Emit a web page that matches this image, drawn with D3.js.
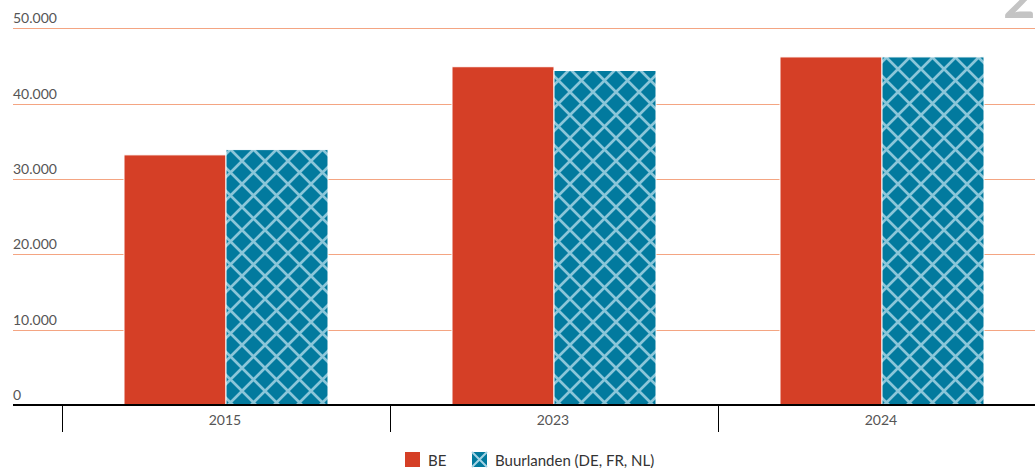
<!DOCTYPE html>
<html>
<head>
<meta charset="utf-8">
<script src="https://cdn.jsdelivr.net/npm/d3@7.9.0/dist/d3.min.js"></script>
<style>
  body { margin: 0; background: #fff; }
  svg { display: block; font-family: Lato, "Open Sans", sans-serif; }
</style>
</head>
<body>
<svg id="chart" width="1035" height="468"></svg>
<script>
// data
const years   = ['2015', '2023', '2024'];
const series  = ['BE', 'Buurlanden (DE, FR, NL)'];
const beVals  = [33200, 44900, 46200];
const buurVals = [33900, 44400, 46200];
const yTicks  = [0, 10000, 20000, 30000, 40000, 50000];

const red  = '#d53f26';
const teal = '#027a9e';
const hatch = '#a3d3e4';

const svg = d3.select('#chart');
const W = 1035;

// hatch pattern
const defs = svg.append('defs');
defs.append('filter').attr('id', 'soft')
  .append('feGaussianBlur').attr('stdDeviation', 0.6);
const pat = defs.append('pattern')
    .attr('id', 'hatch')
    .attr('patternUnits', 'userSpaceOnUse')
    .attr('width', 23).attr('height', 23)
    .attr('x', 226).attr('y', 0);
pat.append('rect').attr('width', 23).attr('height', 23).attr('fill', teal);
pat.append('path')
    .attr('d', 'M0,0L23,23M23,0L0,23M-2,21L2,25M21,-2L25,2M-2,2L2,-2M21,25L25,21')
    .attr('stroke', hatch).attr('stroke-width', 2.6).attr('stroke-opacity', 0.85)
    .attr('fill', 'none').attr('filter', 'url(#soft)');

const y = d3.scaleLinear().domain([0, 50000]).range([405, 28.3]);
const x0 = d3.scaleBand().domain(years).range([62, 1046]);
const x1 = d3.scaleBand().domain(series).range([62, 266]);

const fmt = d3.formatLocale({ decimal: ',', thousands: '.', grouping: [3], currency: ['€', ''] }).format(',');

// gridlines + labels
const grid = svg.append('g');
grid.selectAll('line').data(yTicks.filter(d => d > 0)).join('line')
    .attr('x1', 13).attr('x2', W)
    .attr('y1', d => Math.round(y(d)) + 0.5).attr('y2', d => Math.round(y(d)) + 0.5)
    .attr('stroke', '#f4a582').attr('stroke-width', 1);
grid.selectAll('text').data(yTicks).join('text')
    .attr('x', 13).attr('y', d => y(d) - 5)
    .attr('fill', '#555').attr('font-size', 14)
    .text(d => fmt(d));

// bars
const rows = years.map((yr, i) => ({ year: yr, vals: [beVals[i], buurVals[i]] }));
const groups = svg.append('g').selectAll('g').data(rows).join('g')
    .attr('transform', d => `translate(${x0(d.year)},0)`);
groups.selectAll('rect').data(d => d.vals.map((v, j) => ({ key: series[j], v }))).join('rect')
    .attr('x', d => x1(d.key))
    .attr('width', x1.bandwidth())
    .attr('y', d => y(d.v))
    .attr('height', d => y(0) - y(d.v))
    .attr('fill', (d, j) => j === 0 ? red : 'url(#hatch)')
    .attr('stroke', '#fff').attr('stroke-width', 1);

// x axis
svg.append('line')
    .attr('x1', 13).attr('x2', W).attr('y1', 405).attr('y2', 405)
    .attr('stroke', '#000').attr('stroke-width', 2);
svg.append('g').selectAll('line').data(years).join('line')
    .attr('x1', d => x0(d) + 0.5).attr('x2', d => x0(d) + 0.5)
    .attr('y1', 405).attr('y2', 432)
    .attr('stroke', '#000').attr('stroke-width', 1);
svg.append('g').selectAll('text').data(years).join('text')
    .attr('x', d => x0(d) + x0.bandwidth() / 2 - 1)
    .attr('y', 425)
    .attr('text-anchor', 'middle')
    .attr('fill', '#555').attr('font-size', 14)
    .text(d => d);

// legend
const lg = svg.append('g');
lg.append('rect').attr('x', 405).attr('y', 452).attr('width', 15).attr('height', 15).attr('fill', red);
lg.append('text').attr('x', 428).attr('y', 465.5).attr('font-size', 15).attr('fill', '#333').text(series[0]);
lg.append('rect').attr('x', 472).attr('y', 452).attr('width', 15).attr('height', 15).attr('fill', teal);
lg.append('path').attr('d', 'M472,452L487,467M487,452L472,467')
    .attr('stroke', hatch).attr('stroke-width', 2);
lg.append('text').attr('x', 495).attr('y', 465.5).attr('font-size', 15).attr('fill', '#333').text(series[1]);

// cut-off glyph top right
svg.append('text').attr('x', 1003).attr('y', 18)
    .attr('font-size', 56).attr('font-weight', 'bold').attr('fill', '#c4c4c4').text('2');
</script>
</body>
</html>
